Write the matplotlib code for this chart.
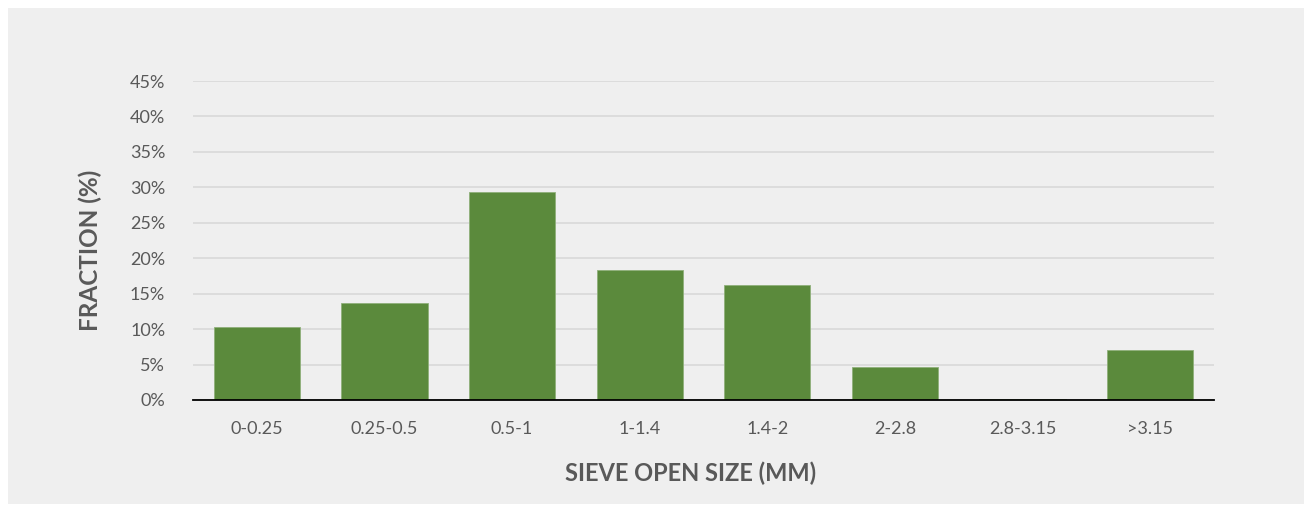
import matplotlib
matplotlib.use('Agg')
import matplotlib.pyplot as plt
from matplotlib.patches import Rectangle
from matplotlib.ticker import FuncFormatter

# sieve fractions
SIZES = ["0-0.25", "0.25-0.5", "0.5-1", "1-1.4", "1.4-2", "2-2.8", "2.8-3.15", ">3.15"]
FRACTION = [10.3, 13.7, 29.3, 18.4, 16.2, 4.7, 0.2, 7.0]

BG = "#EFEFEF"
GREEN = "#5B8A3C"
TEXT = "#595959"
GRID = "#D9D9D9"

plt.rcParams['font.family'] = ['Lato', 'DejaVu Sans']

fig = plt.figure(figsize=(13.08, 5.11), dpi=100)
fig.patch.set_facecolor("white")
# light grey panel inset from the white border
fig.add_artist(Rectangle((8 / 1308, 1 - 504 / 511), 1296 / 1308, 496 / 511,
                         transform=fig.transFigure, facecolor=BG,
                         edgecolor='none', zorder=-1))

ax = fig.add_axes([193 / 1308, 1 - 400 / 511, 1021 / 1308, 319 / 511])
ax.patch.set_alpha(0)

x = range(len(SIZES))
ax.bar(x, FRACTION, width=0.676, color=GREEN, edgecolor='#8FB07A',
       linewidth=0.6, zorder=3)

ax.set_xlim(-0.5, len(SIZES) - 0.5)
ax.set_ylim(0, 45)
ax.set_yticks(range(0, 46, 5))
ax.yaxis.set_major_formatter(FuncFormatter(lambda v, _: f"{v:.0f}%"))
ax.grid(axis='y', color=GRID, linewidth=1.2, zorder=0)
ax.set_axisbelow(True)

ax.set_xticks(list(x))
ax.set_xticklabels(SIZES)
ax.tick_params(axis='both', length=0, labelsize=13, colors=TEXT)
ax.tick_params(axis='x', pad=15)
ax.tick_params(axis='y', pad=20)

for s in ('top', 'right', 'left'):
    ax.spines[s].set_visible(False)
ax.spines['bottom'].set_color('black')
ax.spines['bottom'].set_linewidth(1.3)
ax.spines['bottom'].set_zorder(4)

ax.set_xlabel("SIEVE OPEN SIZE (MM)", fontsize=17, fontweight='bold', color=TEXT)
ax.set_ylabel("FRACTION (%)", fontsize=17.5, fontweight='bold', color=TEXT)
ax.xaxis.set_label_coords(0.487, -0.193)
ax.yaxis.set_label_coords(-0.089, 0.47)

fig.savefig("out.png", dpi=100, facecolor="white")
